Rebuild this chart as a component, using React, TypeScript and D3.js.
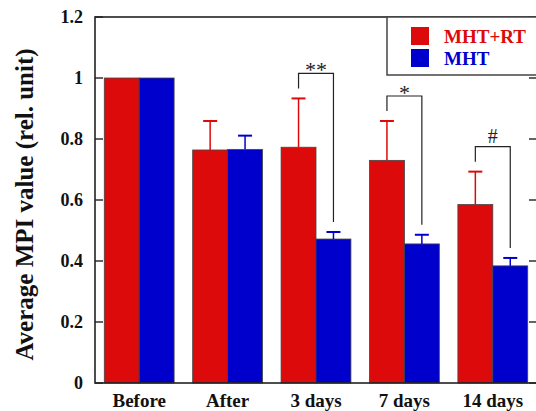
import { useRef, useEffect } from 'react';
import * as d3 from 'd3';

const categories = ['Before', 'After', '3 days', '7 days', '14 days'];
const seriesNames = ['MHT+RT', 'MHT'];
const seriesColors = ['#DC0A0A', '#0000CC'];

// mean values (rel. unit) and upper error (SD)
const mhtRtMean = [1.0, 0.764, 0.773, 0.73, 0.585];
const mhtRtErr = [0, 0.095, 0.16, 0.129, 0.108];
const mhtMean = [1.0, 0.766, 0.472, 0.456, 0.384];
const mhtErr = [0, 0.045, 0.023, 0.03, 0.026];

const yTicks = [0, 0.2, 0.4, 0.6, 0.8, 1, 1.2];
const yTickLabels = ['0', '0.2', '0.4', '0.6', '0.8', '1', '1.2'];

const significance = [
  { category: '3 days', label: '**' },
  { category: '7 days', label: '*' },
  { category: '14 days', label: '#' },
];

const WIDTH = 536;
const HEIGHT = 411;
const SERIF = "'Liberation Serif', 'Times New Roman', serif";

export default function App() {
  const svgRef = useRef<SVGSVGElement>(null);

  useEffect(() => {
    if (!svgRef.current) return;
    const margin = { top: 17, right: -1, bottom: 28, left: 95 };
    const x0 = margin.left;
    const x1 = WIDTH - margin.right;
    const y0 = HEIGHT - margin.bottom;
    const y1 = margin.top;

    const svg = d3.select(svgRef.current);
    svg.selectAll('*').remove();

    const xScale = d3
      .scaleBand<string>()
      .domain(categories)
      .range([x0, x1])
      .paddingInner(0.21)
      .paddingOuter(0.105);
    const xSub = d3.scaleBand<string>().domain(seriesNames).range([0, xScale.bandwidth()]);
    const yScale = d3.scaleLinear().domain([0, 1.2]).range([y0, y1]);

    const rows = categories.map((c, i) => ({
      category: c,
      values: [
        { series: seriesNames[0], mean: mhtRtMean[i], err: mhtRtErr[i], color: seriesColors[0] },
        { series: seriesNames[1], mean: mhtMean[i], err: mhtErr[i], color: seriesColors[1] },
      ],
    }));

    // Bars
    rows.forEach((row) => {
      const gx = xScale(row.category) || 0;
      row.values.forEach((v) => {
        const bx = gx + (xSub(v.series) || 0);
        svg
          .append('rect')
          .attr('x', bx)
          .attr('y', yScale(v.mean))
          .attr('width', xSub.bandwidth())
          .attr('height', yScale(0) - yScale(v.mean))
          .attr('fill', v.color)
          .attr('stroke', '#444')
          .attr('stroke-width', 0.8);

        if (v.err > 0) {
          const cx = bx + xSub.bandwidth() / 2;
          const top = yScale(v.mean + v.err);
          svg
            .append('line')
            .attr('x1', cx)
            .attr('x2', cx)
            .attr('y1', yScale(v.mean))
            .attr('y2', top)
            .attr('stroke', v.color)
            .attr('stroke-width', 1.5);
          svg
            .append('line')
            .attr('x1', cx - 7)
            .attr('x2', cx + 7)
            .attr('y1', top)
            .attr('y2', top)
            .attr('stroke', v.color)
            .attr('stroke-width', 2);
        }
      });
    });

    // Significance brackets
    significance.forEach((s) => {
      const row = rows.find((r) => r.category === s.category)!;
      const gx = xScale(s.category) || 0;
      const [a, b] = row.values;
      const ax = gx + (xSub(a.series) || 0) + xSub.bandwidth() / 2;
      const bx = gx + (xSub(b.series) || 0) + xSub.bandwidth() / 2;
      const aTop = yScale(a.mean + a.err);
      const bTop = yScale(b.mean + b.err);
      const barTop = aTop - 25;
      svg
        .append('path')
        .attr('d', `M${ax},${aTop - 10}V${barTop}H${bx}V${bTop - 10}`)
        .attr('fill', 'none')
        .attr('stroke', '#222')
        .attr('stroke-width', 1.2);
      svg
        .append('text')
        .attr('x', (ax + bx) / 2)
        .attr('y', s.label === '#' ? barTop - 4 : barTop + 4)
        .attr('text-anchor', 'middle')
        .attr('font-family', SERIF)
        .attr('font-size', s.label === '#' ? 20 : 22)
        .attr('fill', '#222')
        .text(s.label);
    });

    // Frame (box axes)
    svg
      .append('rect')
      .attr('x', x0)
      .attr('y', y1)
      .attr('width', x1 - x0)
      .attr('height', y0 - y1)
      .attr('fill', 'none')
      .attr('stroke', '#222')
      .attr('stroke-width', 1.6);

    // Y ticks (inward on both sides) and labels
    yTicks.forEach((t, i) => {
      const y = yScale(t);
      svg.append('line').attr('x1', x0).attr('x2', x0 + 8).attr('y1', y).attr('y2', y)
        .attr('stroke', '#222').attr('stroke-width', 1.4);
      svg.append('line').attr('x1', x1 - 8).attr('x2', x1).attr('y1', y).attr('y2', y)
        .attr('stroke', '#222').attr('stroke-width', 1.4);
      svg
        .append('text')
        .attr('x', 83)
        .attr('y', y)
        .attr('dy', '0.35em')
        .attr('text-anchor', 'end')
        .attr('font-family', SERIF)
        .attr('font-weight', 'bold')
        .attr('font-size', 18)
        .attr('fill', '#111')
        .text(yTickLabels[i]);
    });

    // X labels
    categories.forEach((c) => {
      svg
        .append('text')
        .attr('x', (xScale(c) || 0) + xScale.bandwidth() / 2)
        .attr('y', 407)
        .attr('text-anchor', 'middle')
        .attr('font-family', SERIF)
        .attr('font-weight', 'bold')
        .attr('font-size', 19)
        .attr('fill', '#111')
        .text(c);
    });

    // Y axis title
    svg
      .append('text')
      .attr('transform', `translate(33,${(46 + 363) / 2}) rotate(-90)`)
      .attr('text-anchor', 'middle')
      .attr('font-family', SERIF)
      .attr('font-weight', 'bold')
      .attr('font-size', 25)
      .attr('fill', '#111')
      .text('Average MPI value (rel. unit)');

    // Legend
    const lg = svg.append('g').attr('transform', 'translate(387,17)');
    lg.append('rect')
      .attr('x', 0)
      .attr('y', 0)
      .attr('width', 160)
      .attr('height', 58)
      .attr('fill', 'white')
      .attr('stroke', '#444')
      .attr('stroke-width', 1.5);
    seriesNames.forEach((name, i) => {
      lg.append('rect')
        .attr('x', 24)
        .attr('y', 10 + i * 22)
        .attr('width', 18)
        .attr('height', 18)
        .attr('fill', seriesColors[i]);
      lg.append('text')
        .attr('x', 57)
        .attr('y', 19 + i * 22)
        .attr('dy', '0.35em')
        .attr('font-family', SERIF)
        .attr('font-weight', 'bold')
        .attr('font-size', 19)
        .attr('fill', seriesColors[i])
        .text(name);
    });
  }, []);

  return (
    <svg
      ref={svgRef}
      width={WIDTH}
      height={HEIGHT}
      style={{ position: 'absolute', left: 0, top: 0, background: 'white' }}
    />
  );
}
